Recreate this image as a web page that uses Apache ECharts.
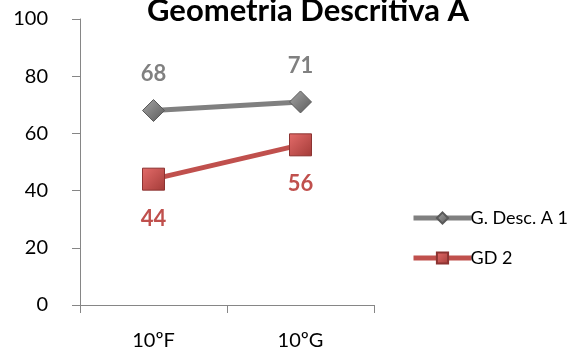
<!DOCTYPE html>
<html><head><meta charset="utf-8">
<script src="https://cdn.jsdelivr.net/npm/echarts@6/dist/echarts.min.js"></script>
<style>html,body{margin:0;padding:0;background:#fff}#c{width:578px;height:361px}</style>
</head><body><div id="c"></div>
<script>
const categories = ['10ºF', '10ºG'];
const seriesNames = ['G. Desc. A 1', 'GD 2'];
const descA1 = [68, 71];
const gd2 = [44, 56];
const yTicks = [0, 20, 40, 60, 80, 100];

const FONT = 'Lato, "Open Sans", sans-serif';
const grey = '#808080';
const red = '#c0504d';
const chart = echarts.init(document.getElementById('c'));
chart.setOption({
  animation: false,
  title: { text: 'Geometria Descritiva A', left: 303, textAlign: 'center', top: -10,
    textStyle: { fontFamily: FONT, fontSize: 31, fontWeight: 'bold', color: '#000' } },
  legend: { orient: 'vertical', left: 406, top: 204, itemWidth: 58, itemHeight: 14, itemGap: 22,
    lineStyle: { width: 5 },
    textStyle: { fontFamily: FONT, fontSize: 18, color: '#000', padding: [0,0,0,-6] },
    data: seriesNames },
  grid: { left: 80, top: 19, width: 294, bottom: 56 },
  xAxis: { type: 'category', data: categories, boundaryGap: true,
    axisLine: { lineStyle: { color: '#868686', width: 1 } },
    axisTick: { show: true, length: 8, lineStyle: { color: '#868686' } },
    axisLabel: { fontFamily: FONT, fontSize: 20, color: '#000', margin: 26 } },
  yAxis: { type: 'value', min: yTicks[0], max: yTicks[yTicks.length-1], interval: 20,
    splitLine: { show: false },
    axisLine: { show: true, lineStyle: { color: '#868686', width: 1 } },
    axisTick: { show: true, length: 8, lineStyle: { color: '#868686' } },
    axisLabel: { fontFamily: FONT, fontSize: 20, color: '#000', margin: 32 } },
  series: [
    { name: seriesNames[0], type: 'line', data: descA1, symbol: 'diamond', symbolSize: 22,
      lineStyle: { color: grey, width: 5 },
      itemStyle: { color: new echarts.graphic.LinearGradient(0,0,1,1,[{offset:0,color:'#a6a6a6'},{offset:1,color:'#595959'}]), borderColor: '#595959', borderWidth: 1 },
      label: { show: true, position: 'top', distance: 14, fontFamily: FONT, fontSize: 22, fontWeight: 'bold', color: grey } },
    { name: seriesNames[1], type: 'line', data: gd2, symbol: 'rect', symbolSize: 22,
      lineStyle: { color: red, width: 5 },
      itemStyle: { color: new echarts.graphic.LinearGradient(0,0,1,1,[{offset:0,color:'#e46c6a'},{offset:1,color:'#a33b38'}]), borderColor: '#8c3331', borderWidth: 1 },
      label: { show: true, position: 'bottom', distance: 17, fontFamily: FONT, fontSize: 22, fontWeight: 'bold', color: red } }
  ]
});
</script></body></html>
